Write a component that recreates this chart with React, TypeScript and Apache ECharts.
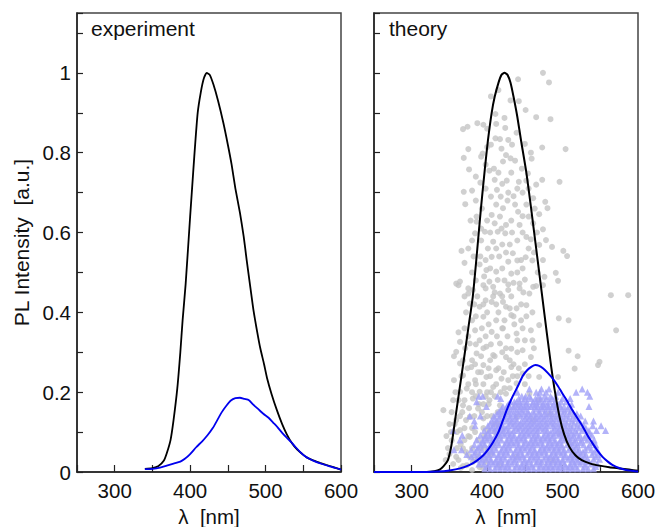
import React, { useEffect, useRef } from "react";
import * as echarts from "echarts";

// ---------- data ----------
const expBlack: [number, number][] = [
  [340, 0.008], [350, 0.01], [358, 0.015], [365, 0.028], [369, 0.047], [374, 0.08], [378, 0.13],
  [383, 0.21], [387, 0.3], [390, 0.38], [394, 0.47], [400, 0.64], [404, 0.75], [407, 0.83],
  [410, 0.9], [414, 0.95], [418, 0.985], [422, 1.0], [426, 0.995], [431, 0.97], [437, 0.93],
  [444, 0.875], [450, 0.82], [455, 0.77], [460, 0.71], [466, 0.65], [471, 0.59], [475, 0.53],
  [480, 0.46], [484, 0.405], [489, 0.35], [493, 0.31], [498, 0.27], [502, 0.235], [508, 0.195],
  [515, 0.155], [522, 0.12], [528, 0.095], [535, 0.072], [542, 0.056], [550, 0.043], [555, 0.036],
  [563, 0.029], [572, 0.023], [580, 0.018], [590, 0.012], [600, 0.006],
];

const expBlue: [number, number][] = [
  [340, 0.007], [350, 0.008], [360, 0.011], [369, 0.016], [378, 0.021], [387, 0.026], [393, 0.033],
  [400, 0.045], [408, 0.062], [416, 0.077], [423, 0.092], [430, 0.11], [436, 0.13], [442, 0.15],
  [448, 0.166], [454, 0.179], [460, 0.185], [466, 0.186], [472, 0.183], [478, 0.18], [484, 0.168],
  [490, 0.158], [497, 0.146], [504, 0.136], [510, 0.124], [516, 0.112], [522, 0.098], [528, 0.086],
  [534, 0.075], [540, 0.062], [546, 0.05], [552, 0.04], [558, 0.033], [566, 0.026], [575, 0.02],
  [585, 0.014], [593, 0.01], [600, 0.006],
];

const thBlack: [number, number][] = [
  [250, 0], [320, 0], [330, 0.002], [337, 0.006], [342, 0.014], [348, 0.03], [352, 0.06],
  [355, 0.096], [359, 0.15], [364, 0.215], [369, 0.28], [375, 0.36], [381, 0.44], [387, 0.56],
  [392, 0.665], [397, 0.76], [401, 0.83], [406, 0.9], [410, 0.94], [415, 0.975], [419, 0.995],
  [423, 1.0], [427, 0.995], [431, 0.975], [435, 0.94], [440, 0.89], [445, 0.83], [452, 0.75],
  [458, 0.665], [465, 0.56], [473, 0.44], [479, 0.35], [485, 0.263], [490, 0.2], [496, 0.138],
  [502, 0.095], [509, 0.063], [517, 0.042], [526, 0.029], [537, 0.021], [549, 0.016], [562, 0.012],
  [575, 0.009], [588, 0.006], [600, 0.003],
];

const thBlue: [number, number][] = [
  [250, 0], [320, 0], [335, 0.001], [350, 0.004], [364, 0.009], [377, 0.018], [386, 0.028],
  [395, 0.042], [402, 0.058], [408, 0.075], [415, 0.1], [421, 0.13], [427, 0.16], [434, 0.19],
  [441, 0.216], [447, 0.24], [453, 0.255], [459, 0.264], [464, 0.268], [469, 0.266], [474, 0.26],
  [480, 0.249], [487, 0.234], [494, 0.215], [500, 0.196], [507, 0.175], [513, 0.155], [520, 0.134],
  [527, 0.113], [533, 0.092], [540, 0.071], [546, 0.054], [553, 0.038], [560, 0.026], [566, 0.018],
  [575, 0.01], [584, 0.005], [592, 0.003], [600, 0.001],
];

const grayDots: [number, number][] = [
  [474, 1.0], [441, 0.984], [482, 0.976], [415, 0.957], [431, 0.931], [442, 0.929], [405, 0.941],
  [451, 0.907], [465, 0.889], [484, 0.884], [411, 0.897], [423, 0.887], [368, 0.859], [374, 0.865],
  [387, 0.874], [395, 0.87], [412, 0.872], [424, 0.862], [439, 0.85], [411, 0.836], [417, 0.834],
  [428, 0.832], [450, 0.822], [375, 0.809], [400, 0.814], [473, 0.813], [504, 0.809], [425, 0.794],
  [431, 0.786], [394, 0.798], [369, 0.787], [392, 0.79], [458, 0.8], [459, 0.785], [421, 0.778],
  [376, 0.758], [403, 0.755], [454, 0.748], [391, 0.725], [410, 0.732], [420, 0.722], [426, 0.73],
  [442, 0.727], [452, 0.73], [473, 0.732], [496, 0.727], [369, 0.702], [380, 0.705], [413, 0.707],
  [435, 0.691], [447, 0.7], [461, 0.686], [371, 0.671], [421, 0.661], [477, 0.677], [480, 0.661],
  [386, 0.64], [406, 0.644], [441, 0.652], [447, 0.641], [469, 0.646], [386, 0.627], [397, 0.602],
  [410, 0.623], [425, 0.619], [443, 0.619], [461, 0.623], [474, 0.608], [384, 0.598], [414, 0.602],
  [424, 0.598], [452, 0.589], [458, 0.583], [478, 0.581], [486, 0.564], [366, 0.554], [375, 0.56],
  [408, 0.577], [412, 0.56], [469, 0.569], [501, 0.554], [506, 0.541], [370, 0.524], [398, 0.531],
  [406, 0.539], [434, 0.548], [428, 0.527], [445, 0.531], [451, 0.538], [474, 0.531], [399, 0.506],
  [412, 0.502], [432, 0.497], [491, 0.499], [494, 0.479], [362, 0.468], [375, 0.46], [403, 0.477],
  [414, 0.481], [435, 0.474], [450, 0.482], [461, 0.464], [474, 0.468], [564, 0.443], [587, 0.443],
  [359, 0.472], [364, 0.477], [375, 0.447], [381, 0.456], [395, 0.468], [408, 0.464], [417, 0.447],
  [428, 0.456], [443, 0.472], [456, 0.447], [465, 0.466], [476, 0.489], [377, 0.422], [390, 0.414],
  [406, 0.426], [421, 0.426], [425, 0.414], [439, 0.41], [452, 0.418], [395, 0.389], [412, 0.38],
  [432, 0.393], [445, 0.38], [469, 0.368], [495, 0.385], [508, 0.38], [571, 0.355], [370, 0.36],
  [384, 0.355], [406, 0.351], [421, 0.36], [439, 0.347], [458, 0.355], [364, 0.326], [377, 0.322],
  [399, 0.314], [417, 0.322], [432, 0.309], [447, 0.305], [508, 0.304], [359, 0.301], [386, 0.297],
  [408, 0.293], [425, 0.288], [458, 0.288], [520, 0.29], [549, 0.276], [547, 0.268], [364, 0.272],
  [379, 0.263], [395, 0.268], [412, 0.255], [432, 0.263], [447, 0.247], [516, 0.259], [368, 0.242],
  [384, 0.23], [399, 0.238], [419, 0.234], [439, 0.222], [469, 0.238], [494, 0.238], [373, 0.209],
  [390, 0.201], [408, 0.213], [425, 0.196], [364, 0.201], [381, 0.184], [403, 0.18], [417, 0.167],
  [342, 0.155], [368, 0.167], [388, 0.159], [377, 0.138], [359, 0.13], [395, 0.134], [364, 0.105],
  [377, 0.088], [353, 0.079], [368, 0.059], [359, 0.038], [381, 0.025], [373, 0.017], [401, 0.105],
  [439, 0.138], [461, 0.13], [483, 0.146], [496, 0.096], [509, 0.071], [487, 0.029], [439, 0.038],
  [417, 0.017], [408, 0.071], [469, 0.18], [456, 0.196],
  [387, 0.44], [398, 0.43], [410, 0.45], [415, 0.4], [402, 0.37], [390, 0.33], [413, 0.34],
  [427, 0.34], [436, 0.37], [420, 0.3], [404, 0.28], [392, 0.29], [380, 0.28], [371, 0.31],
  [362, 0.35], [356, 0.29], [385, 0.39], [430, 0.28], [440, 0.3], [450, 0.33], [462, 0.31],
  [400, 0.2], [415, 0.26], [423, 0.21],
  [358, 0.2], [362, 0.18], [367, 0.15], [372, 0.13], [376, 0.16], [380, 0.2], [385, 0.22],
  [389, 0.17], [393, 0.15], [398, 0.19], [402, 0.17], [406, 0.14], [410, 0.19], [414, 0.15],
  [356, 0.23], [366, 0.24], [374, 0.26], [384, 0.27], [392, 0.25], [404, 0.24], [412, 0.22],
  [418, 0.2], [422, 0.25], [428, 0.23], [434, 0.24], [442, 0.26], [360, 0.1], [365, 0.07],
  [370, 0.11], [375, 0.09], [380, 0.06], [384, 0.1], [388, 0.08], [392, 0.06], [396, 0.09],
  [350, 0.045], [355, 0.02], [362, 0.03], [368, 0.015], [376, 0.04], [383, 0.03], [390, 0.012],
  [398, 0.025], [405, 0.045], [410, 0.1], [416, 0.12], [348, 0.06], [353, 0.15], [357, 0.12],
  [400, 0.86], [405, 0.82], [419, 0.81], [433, 0.82], [437, 0.78], [398, 0.77], [409, 0.76],
  [415, 0.75], [432, 0.75], [446, 0.76], [385, 0.74], [398, 0.71], [405, 0.69], [418, 0.69],
  [428, 0.7], [440, 0.71], [455, 0.71], [465, 0.72], [385, 0.68], [393, 0.66], [412, 0.67],
  [427, 0.68], [437, 0.67], [452, 0.67], [463, 0.66], [378, 0.63], [400, 0.63], [417, 0.64],
  [432, 0.63], [455, 0.64], [392, 0.61], [404, 0.6], [419, 0.61], [433, 0.6], [447, 0.6],
  [466, 0.6], [380, 0.58], [392, 0.58], [401, 0.56], [420, 0.57], [430, 0.57], [440, 0.58],
  [455, 0.56], [462, 0.55], [382, 0.54], [391, 0.54], [416, 0.54], [425, 0.55], [440, 0.53],
  [460, 0.53], [380, 0.5], [390, 0.52], [404, 0.51], [420, 0.51], [440, 0.5], [447, 0.51],
  [467, 0.5], [385, 0.48], [396, 0.49], [423, 0.48], [428, 0.47], [443, 0.46], [370, 0.44],
  [398, 0.46], [408, 0.44], [420, 0.44], [432, 0.44], [448, 0.45], [383, 0.42], [395, 0.42],
  [412, 0.42], [430, 0.41], [445, 0.42], [460, 0.4], [372, 0.4], [380, 0.38], [400, 0.4],
  [423, 0.38], [435, 0.39], [452, 0.39], [420, 0.36], [447, 0.36], [393, 0.36], [375, 0.34],
  [398, 0.34], [440, 0.33], [385, 0.32], [405, 0.32], [425, 0.31], [460, 0.33], [410, 0.29],
  [395, 0.31], [368, 0.28], [435, 0.27], [450, 0.27], [388, 0.25], [402, 0.26], [440, 0.24],
  [455, 0.24], [375, 0.22], [395, 0.22], [430, 0.21], [450, 0.22], [405, 0.2], [385, 0.19],
  [370, 0.18], [395, 0.17], [355, 0.18], [350, 0.12], [346, 0.09], [364, 0.14], [383, 0.14],
  [400, 0.14], [410, 0.12], [352, 0.1], [380, 0.11], [370, 0.08], [395, 0.11], [345, 0.03],
  [360, 0.06], [372, 0.05], [388, 0.04], [398, 0.06], [365, 0.01], [380, 0.005], [394, 0.01],
];

// triangles: rows of (intensity level, wavelengths read at that level)
const triRowLevels: number[] = [
  0.008, 0.014, 0.02, 0.026, 0.032, 0.038, 0.044, 0.05, 0.056, 0.062, 0.068, 0.074, 0.08, 0.086,
  0.092, 0.098, 0.104, 0.11, 0.116, 0.122, 0.128, 0.134, 0.14, 0.146, 0.152, 0.158, 0.164, 0.17,
  0.176, 0.184, 0.19, 0.2, 0.208,
];
const triRowLambdas: number[][] = [
  [397, 404, 410, 417, 424, 430, 436, 443, 449, 455, 462, 468, 475, 481, 487, 494, 500, 507, 513, 520, 527, 534, 541],
  [401, 413, 420, 427, 439, 446, 452, 459, 471, 478, 484, 490, 497, 504, 510, 517, 530, 544],
  [389, 396, 402, 408, 414, 421, 427, 433, 440, 446, 452, 459, 465, 471, 478, 484, 491, 497, 503, 510, 516, 523, 530, 538, 546],
  [392, 405, 411, 418, 428, 436, 449, 455, 466, 472, 481, 487, 494, 500, 513, 520, 527, 535],
  [386, 393, 399, 405, 412, 418, 424, 431, 437, 443, 450, 456, 462, 469, 475, 481, 488, 494, 500, 507, 513, 519, 526, 533, 541, 549],
  [379, 396, 402, 415, 421, 434, 440, 447, 459, 466, 478, 484, 491, 503, 510, 516, 522, 529, 544],
  [373, 383, 390, 396, 402, 409, 415, 422, 428, 434, 441, 447, 453, 460, 466, 472, 479, 485, 491, 498, 504, 511, 517, 524, 531, 539, 547],
  [384, 399, 406, 418, 425, 437, 444, 456, 463, 469, 476, 488, 495, 501, 514, 520, 527, 542],
  [356, 366, 379, 387, 393, 400, 406, 412, 419, 425, 431, 438, 444, 450, 457, 463, 470, 476, 482, 489, 495, 502, 508, 515, 522, 530, 538, 546],
  [388, 403, 409, 422, 428, 441, 447, 453, 460, 473, 479, 486, 492, 499, 511, 518, 534],
  [383, 391, 397, 404, 410, 416, 423, 429, 435, 442, 448, 455, 461, 467, 474, 480, 486, 493, 499, 506, 513, 520, 528, 536, 544],
  [394, 407, 413, 426, 432, 439, 451, 458, 464, 471, 483, 490, 496, 509, 516, 524, 540],
  [364, 386, 394, 400, 407, 413, 419, 426, 432, 439, 445, 451, 458, 464, 471, 477, 483, 490, 497, 503, 510, 517, 525, 533, 542],
  [397, 404, 416, 429, 435, 442, 448, 461, 467, 474, 480, 486, 500, 507, 513, 521, 529],
  [367, 391, 398, 404, 411, 417, 423, 430, 436, 443, 449, 455, 462, 468, 475, 481, 488, 495, 501, 508, 515, 523, 531, 539],
  [401, 414, 420, 427, 433, 446, 452, 458, 465, 478, 484, 491, 498, 505, 512, 519, 535],
  [355, 396, 403, 410, 416, 422, 429, 435, 441, 448, 454, 461, 467, 474, 480, 487, 494, 501, 509, 517, 526, 535, 545, 557],
  [406, 413, 419, 425, 438, 444, 451, 457, 464, 470, 477, 490, 497, 505, 513, 522, 531],
  [384, 401, 408, 415, 421, 428, 434, 441, 447, 454, 460, 467, 473, 480, 487, 494, 502, 510, 519, 528, 540, 551],
  [404, 411, 418, 431, 437, 444, 450, 457, 463, 470, 477, 484, 490, 498, 506, 515, 524],
  [383, 406, 413, 420, 427, 433, 440, 446, 453, 459, 466, 473, 480, 487, 495, 503, 512, 521, 530, 541],
  [410, 416, 423, 430, 437, 450, 456, 463, 469, 476, 484, 491, 499, 508, 517],
  [377, 391, 409, 417, 424, 431, 438, 445, 452, 458, 465, 472, 479, 487, 495, 504, 514, 524],
  [413, 420, 428, 435, 442, 449, 455, 462, 469, 476, 483, 491, 500, 509, 519],
  [416, 424, 431, 439, 446, 454, 461, 469, 477, 485, 494, 503, 511],
  [419, 427, 435, 443, 450, 465, 473, 481, 490, 499, 507],
  [399, 421, 426, 430, 435, 440, 445, 449, 454, 458, 463, 467, 472, 476, 481, 486, 491, 497, 502, 508, 535],
  [428, 437, 444, 452, 460, 466, 474, 480, 488, 495, 512],
  [386, 431, 436, 439, 443, 448, 453, 461, 465, 470, 476, 483, 490, 498, 505],
  [418, 442, 450, 458, 464, 471, 479, 486, 500, 510],
  [389, 394, 414, 446, 451, 456, 468, 476, 484, 491, 536],
  [440, 465, 470, 478, 494, 518, 533],
  [456, 472, 482, 526],
];

const xTicks = [300, 400, 500, 600];
const yTickLabels = ["0", "0.2", "0.4", "0.6", "0.8", "1"];

const FONT = "Liberation Sans";
const AXIS_COLOR = "#222";

export default function App() {
  const ref = useRef<HTMLDivElement>(null);
  useEffect(() => {
    if (!ref.current) return;
    const chart = echarts.init(ref.current, undefined, { renderer: "svg" });

    const triData: [number, number][] = [];
    triRowLevels.forEach((lv, i) => {
      triRowLambdas[i].forEach((l) => triData.push([l, lv]));
    });

    const xLabel = (v: number) => (xTicks.includes(Math.round(v)) ? String(Math.round(v)) : "");
    const yLabel = (v: number) => {
      const r = Math.round(v * 10);
      if (Math.abs(v * 10 - r) > 1e-6 || r % 2 !== 0) return "";
      return yTickLabels[r / 2] ?? "";
    };

    const makeX = (gridIndex: number) => ({
      type: "value",
      gridIndex,
      min: 250,
      max: 600,
      interval: 50,
      name: "λ  [nm]",
      nameLocation: "middle",
      nameGap: 28,
      nameTextStyle: { fontFamily: FONT, fontSize: 20.5, color: "#111" },
      axisLine: { show: true, lineStyle: { color: AXIS_COLOR, width: 1.5 } },
      axisTick: { show: true, inside: true, length: 7, lineStyle: { color: AXIS_COLOR, width: 1.2 } },
      axisLabel: {
        show: true,
        formatter: xLabel,
        margin: 8,
        fontFamily: FONT,
        fontSize: 20.5,
        color: "#111",
        showMinLabel: true,
        showMaxLabel: true,
      },
      splitLine: { show: false },
    });

    const makeY = (gridIndex: number, labels: boolean) => ({
      type: "value",
      gridIndex,
      min: 0,
      max: 1.15,
      interval: 0.1,
      name: labels ? "PL Intensity  [a.u.]" : "",
      nameLocation: "middle",
      nameGap: 45,
      nameTextStyle: { fontFamily: FONT, fontSize: 21, color: "#111" },
      axisLine: { show: true, lineStyle: { color: AXIS_COLOR, width: 1.5 } },
      axisTick: { show: true, inside: true, length: 6, lineStyle: { color: AXIS_COLOR, width: 1.2 } },
      axisLabel: {
        show: labels,
        formatter: yLabel,
        margin: 6,
        fontFamily: FONT,
        fontSize: 20.5,
        color: "#111",
      },
      splitLine: { show: false },
    });

    const gridBase = {
      top: 13,
      width: 264,
      height: 459,
      show: true,
      borderColor: "#444",
      borderWidth: 1.5,
      backgroundColor: "transparent",
      containLabel: false,
      outerBoundsMode: "none",
    };

    chart.setOption({
      animation: false,
      backgroundColor: "#fff",
      grid: [
        { ...gridBase, left: 77 },
        { ...gridBase, left: 374 },
      ],
      xAxis: [makeX(0), makeX(1)],
      yAxis: [makeY(0, true), makeY(1, false)],
      graphic: [
        { type: "text", left: 91, top: 18, style: { text: "experiment", fontFamily: FONT, fontSize: 21, fill: "#111" } },
        { type: "text", left: 389, top: 18, style: { text: "theory", fontFamily: FONT, fontSize: 21, fill: "#111" } },
      ],
      series: [
        {
          type: "line", xAxisIndex: 0, yAxisIndex: 0, data: expBlack, showSymbol: false, symbol: "none",
          smooth: 0.2, lineStyle: { color: "#000", width: 1.8 }, z: 3,
        },
        {
          type: "line", xAxisIndex: 0, yAxisIndex: 0, data: expBlue, showSymbol: false, symbol: "none",
          smooth: 0.2, lineStyle: { color: "#0000ee", width: 1.8 }, z: 3,
        },
        {
          type: "scatter", xAxisIndex: 1, yAxisIndex: 1, data: grayDots, symbol: "circle", symbolSize: 6,
          itemStyle: { color: "#c4c4c4" }, z: 1,
        },
        {
          type: "scatter", xAxisIndex: 1, yAxisIndex: 1, data: triData, symbol: "triangle", symbolSize: 7,
          itemStyle: { color: "#a0a0f8" }, z: 2,
        },
        {
          type: "line", xAxisIndex: 1, yAxisIndex: 1, data: thBlack, showSymbol: false, symbol: "none",
          smooth: 0.2, lineStyle: { color: "#000", width: 2 }, z: 3,
        },
        {
          type: "line", xAxisIndex: 1, yAxisIndex: 1, data: thBlue, showSymbol: false, symbol: "none",
          smooth: 0.2, lineStyle: { color: "#0000ee", width: 2 }, z: 3,
        },
      ],
    });
    return () => chart.dispose();
  }, []);
  return (
    <div
      ref={ref}
      style={{ position: "fixed", left: 0, top: 0, width: 666, height: 527, background: "#fff" }}
    />
  );
}
